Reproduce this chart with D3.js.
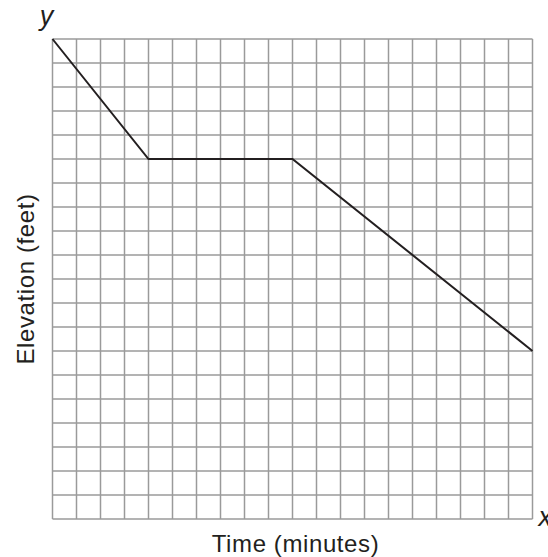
<!DOCTYPE html>
<html>
<head>
<meta charset="utf-8">
<script src="https://cdn.jsdelivr.net/npm/d3@7"></script>
<style>
  body { margin: 0; background: #fff; }
</style>
</head>
<body>
<div id="chart"></div>
<script>
  const width = 548;
  const height = 557;
  const margin = { top: 39, right: 16, bottom: 38, left: 52.5 };

  // elevation path, in grid units
  const times = [0, 4, 10, 20];
  const elevations = [20, 15, 15, 7];
  const gridMax = 20;

  const points = times.map((t, i) => ({ t, e: elevations[i] }));

  const x = d3.scaleLinear([0, gridMax], [margin.left, margin.left + 480]);
  const y = d3.scaleLinear([0, gridMax], [margin.top + 480, margin.top]);

  const svg = d3.select("#chart").append("svg")
    .attr("width", width)
    .attr("height", height)
    .style("font-family", "'Liberation Sans', Arial, sans-serif");

  const grid = svg.append("g")
    .attr("stroke", "#9a9a9a")
    .attr("stroke-width", 1.5);

  grid.selectAll("line.v")
    .data(d3.range(0, gridMax + 1))
    .join("line")
    .attr("class", "v")
    .attr("x1", d => x(d)).attr("x2", d => x(d))
    .attr("y1", y(0)).attr("y2", y(gridMax));

  grid.selectAll("line.h")
    .data(d3.range(0, gridMax + 1))
    .join("line")
    .attr("class", "h")
    .attr("y1", d => y(d)).attr("y2", d => y(d))
    .attr("x1", x(0)).attr("x2", x(gridMax));

  svg.append("path")
    .datum(points)
    .attr("fill", "none")
    .attr("stroke", "#231f20")
    .attr("stroke-width", 2)
    .attr("d", d3.line(d => x(d.t), d => y(d.e)));

  svg.append("text")
    .attr("x", x(0) - 6)
    .attr("y", 25)
    .attr("text-anchor", "middle")
    .attr("font-style", "italic")
    .attr("font-size", 27)
    .attr("fill", "#231f20")
    .text("y");

  // the x label runs past the right edge, as in the original
  svg.append("text")
    .attr("x", x(gridMax) + 6)
    .attr("y", 526)
    .attr("font-style", "italic")
    .attr("font-size", 27)
    .attr("fill", "#231f20")
    .text("x");

  svg.append("text")
    .attr("x", (x(0) + x(gridMax)) / 2 + 3)
    .attr("y", 552)
    .attr("text-anchor", "middle")
    .attr("font-size", 24)
    .attr("letter-spacing", 0.6)
    .attr("fill", "#231f20")
    .text("Time (minutes)");

  svg.append("text")
    .attr("transform", `translate(34,${(y(0) + y(gridMax)) / 2}) rotate(-90)`)
    .attr("text-anchor", "middle")
    .attr("font-size", 24)
    .attr("letter-spacing", 0.6)
    .attr("fill", "#231f20")
    .text("Elevation (feet)");
</script>
</body>
</html>
